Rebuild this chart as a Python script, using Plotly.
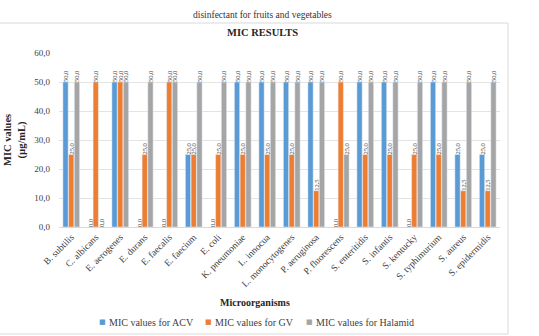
import plotly.graph_objects as go

categories = ["B. subtilis", "C. albicans", "E. aerogenes", "E. durans", "E. faecalis",
              "E. faecium", "E. coli", "K. pneumoniae", "L. innocua", "L. monocytogenes",
              "P. aeruginosa", "P. fluorescens", "S. enteritidis", "S. infantis",
              "S. kentucky", "S. typhimurium", "S. aureus", "S. epidermidis"]
acv = [50, 0, 50, 0, 0, 25, 0, 50, 50, 50, 50, 0, 50, 50, 0, 50, 25, 25]
gv = [25, 50, 50, 25, 50, 25, 25, 25, 25, 25, 12.5, 50, 25, 25, 25, 25, 12.5, 12.5]
halamid = [50, 0, 50, 50, 50, 50, 50, 50, 50, 50, 50, 25, 50, 50, 50, 50, 50, 50]
series_names = ["MIC values for ACV", "MIC values for GV", "MIC values for Halamid"]
series_colors = ["#5B9BD5", "#ED7D31", "#A5A5A5"]
y_ticks = [0, 10, 20, 30, 40, 50, 60]

W, H = 539, 336
L, R, T, B = 59, 500, 53, 227  # plot area in pixels
pw, ph = R - L, B - T

def px_x(x):
    return (x - L) / pw

def px_y(y):
    return (B - y) / ph

serif = "Liberation Serif"
fig = go.Figure()
for name, vals, col in zip(series_names, [acv, gv, halamid], series_colors):
    fig.add_trace(go.Bar(
        x=categories, y=vals, name=name, marker_color=col, showlegend=False,
        texttemplate="%{y:.1f}", textposition="outside", textangle=-90,
        constraintext="none", cliponaxis=False,
        textfont=dict(family=serif, size=6.5, color="#404040"),
    ))

annotations = [
    dict(text="disinfectant for fruits and vegetables", xref="paper", yref="paper",
         x=px_x(262), y=px_y(15), xanchor="center", yanchor="middle", showarrow=False,
         font=dict(family=serif, size=9.5, color="#333333")),
    dict(text="<b>MIC RESULTS</b>", xref="paper", yref="paper",
         x=px_x(262), y=px_y(32), xanchor="center", yanchor="middle", showarrow=False,
         font=dict(family=serif, size=10.5, color="#262626")),
    dict(text="<b>MIC values<br>(µg/mL)</b>", xref="paper", yref="paper",
         x=px_x(15), y=px_y(140), xanchor="center", yanchor="middle", showarrow=False,
         textangle=-90, font=dict(family=serif, size=10.5, color="#262626")),
    dict(text="<b>Microorganisms</b>", xref="paper", yref="paper",
         x=px_x(255), y=px_y(302), xanchor="center", yanchor="middle", showarrow=False,
         font=dict(family=serif, size=10, color="#262626")),
]
# legend (swatch + label) laid out like the original
legend_x = [102, 208, 309]
for name, col, lx in zip(series_names, series_colors, legend_x):
    annotations.append(dict(text="■", xref="paper", yref="paper", x=px_x(lx), y=px_y(322),
                            xanchor="center", yanchor="middle", showarrow=False,
                            font=dict(family="DejaVu Sans", size=7, color=col)))
    annotations.append(dict(text=name, xref="paper", yref="paper", x=px_x(lx + 5), y=px_y(322),
                            xanchor="left", yanchor="middle", showarrow=False,
                            font=dict(family=serif, size=10, color="#404040")))

fig.update_layout(
    width=W, height=H,
    margin=dict(l=L, r=W - R, t=T, b=H - B, pad=0),
    paper_bgcolor="white", plot_bgcolor="white",
    separators=", ",
    barmode="group", bargap=0.3, bargroupgap=0.08,
    font=dict(family=serif, color="#404040"),
    showlegend=False,
    xaxis=dict(tickangle=-45, tickfont=dict(family=serif, size=9.5, color="#404040"),
               showline=True, linecolor="#D9D9D9", linewidth=1, ticks="",
               showgrid=False, automargin=False),
    yaxis=dict(range=[0, 60], tickvals=y_ticks, tickformat=".1f",
               tickfont=dict(family=serif, size=9, color="#404040"),
               gridcolor="#E3E3E3", gridwidth=1, zeroline=False, showline=False,
               ticks="", ticklabelstandoff=8, automargin=False),
    shapes=[dict(type="rect", xref="paper", yref="paper",
                 x0=px_x(-2), x1=px_x(508), y0=px_y(334), y1=px_y(23),
                 line=dict(color="#D9D9D9", width=1), fillcolor="rgba(0,0,0,0)", layer="below")],
    annotations=annotations,
)

fig.write_html("out.html")
